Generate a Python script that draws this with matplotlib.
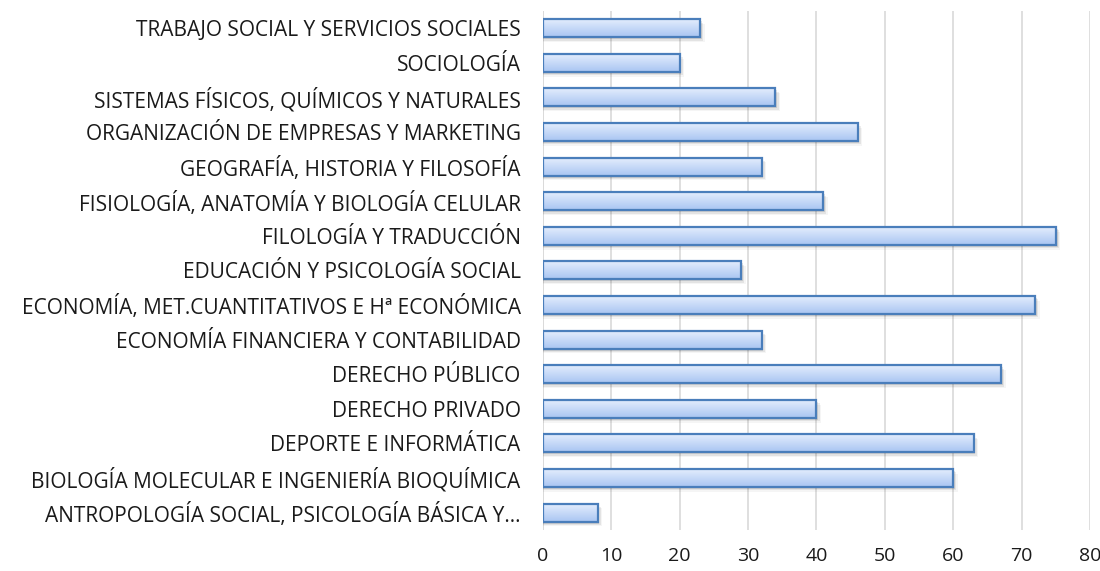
import numpy as np
import matplotlib.pyplot as plt
from matplotlib.colors import LinearSegmentedColormap

categories = [
    "TRABAJO SOCIAL Y SERVICIOS SOCIALES",
    "SOCIOLOGÍA",
    "SISTEMAS FÍSICOS, QUÍMICOS Y NATURALES",
    "ORGANIZACIÓN DE EMPRESAS Y MARKETING",
    "GEOGRAFÍA, HISTORIA Y FILOSOFÍA",
    "FISIOLOGÍA, ANATOMÍA Y BIOLOGÍA CELULAR",
    "FILOLOGÍA Y TRADUCCIÓN",
    "EDUCACIÓN Y PSICOLOGÍA SOCIAL",
    "ECONOMÍA, MET.CUANTITATIVOS E Hª ECONÓMICA",
    "ECONOMÍA FINANCIERA Y CONTABILIDAD",
    "DERECHO PÚBLICO",
    "DERECHO PRIVADO",
    "DEPORTE E INFORMÁTICA",
    "BIOLOGÍA MOLECULAR E INGENIERÍA BIOQUÍMICA",
    "ANTROPOLOGÍA SOCIAL, PSICOLOGÍA BÁSICA Y…",
]
values = [23, 20, 34, 46, 32, 41, 75, 29, 72, 32, 67, 40, 63, 60, 8]
xticks = [0, 10, 20, 30, 40, 50, 60, 70, 80]

plt.rcParams['font.family'] = ['Open Sans', 'DejaVu Sans']

fig = plt.figure(figsize=(11, 5.71), dpi=100)
ax = fig.add_axes([0.4936, 0.072, 0.4973, 0.909])

n = len(categories)
ypos = np.arange(n)[::-1]
h = 0.52
cmap = LinearSegmentedColormap.from_list("g", ["#a9c5f2", "#e3edfd"])
grad = np.linspace(0, 1, 64).reshape(-1, 1)

for y, v in zip(ypos, values):
    # soft shadow
    for k, a in enumerate([0.10, 0.07, 0.04]):
        off = 0.06 + k * 0.04
        ax.add_patch(plt.Rectangle((0, y - h / 2 - off), v + 0.25 + k * 0.2, h,
                                   color="#000000", alpha=a, lw=0, zorder=2))
    ax.imshow(grad, extent=[0, v, y - h / 2, y + h / 2], aspect="auto",
              cmap=cmap, origin="lower", zorder=3, interpolation="bicubic")
    ax.add_patch(plt.Rectangle((0, y - h / 2), v, h, facecolor="none",
                               edgecolor="#4a7ebb", lw=1.6, zorder=4))

ax.set_xlim(0, 80)
ax.set_ylim(-0.5, n - 0.5)
ax.set_xticks(xticks)
ax.set_yticks(ypos)
ax.set_yticklabels(categories)
ax.tick_params(axis="both", length=0, colors="#1a1a1a")
ax.tick_params(axis="x", pad=12, labelsize=14)
ax.tick_params(axis="y", pad=16, labelsize=15)
ax.grid(axis="x", color="#d9d9d9", lw=1.2, zorder=0)
ax.set_axisbelow(True)
for s in ax.spines.values():
    s.set_visible(False)
ax.axvline(0, color="#d9d9d9", lw=1.2, zorder=1)

fig.savefig("out.png", dpi=100)
